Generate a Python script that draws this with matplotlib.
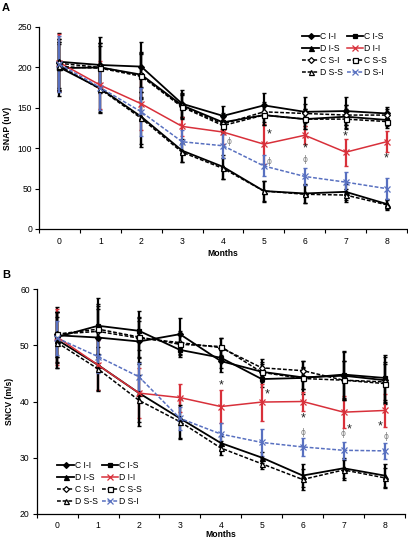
import matplotlib
matplotlib.use("Agg")
import matplotlib.pyplot as plt

plt.rcParams['font.family'] = ['Liberation Sans', 'DejaVu Sans']

months = [0, 1, 2, 3, 4, 5, 6, 7, 8]
series_names = ['C I-I', 'C I-S', 'D I-S', 'D I-I', 'C S-I', 'C S-S', 'D S-S', 'D S-I']

# Panel A: SNAP (uV)
snap_c_ii = [207, 203, 201, 155, 140, 153, 145, 146, 143]
snap_c_is = [199, 200, 191, 153, 132, 141, 136, 139, 135]
snap_d_is = [200, 174, 139, 97, 77, 47, 44, 46, 31]
snap_d_ii = [206, 178, 155, 127, 120, 105, 116, 95, 108]
snap_c_si = [205, 200, 190, 152, 130, 145, 143, 141, 141]
snap_c_ss = [201, 199, 189, 151, 128, 141, 136, 136, 133]
snap_d_ss = [202, 173, 137, 95, 75, 47, 43, 42, 30]
snap_d_si = [204, 175, 145, 108, 103, 78, 65, 58, 50]

snap_c_ii_err = [35, 35, 31, 17, 12, 15, 18, 17, 8]
snap_c_is_err = [30, 30, 28, 15, 12, 12, 12, 14, 8]
snap_d_is_err = [35, 30, 37, 14, 15, 13, 12, 10, 6]
snap_d_ii_err = [35, 30, 32, 12, 15, 25, 11, 17, 13]
snap_c_si_err = [30, 30, 28, 15, 10, 12, 12, 12, 8]
snap_c_ss_err = [30, 28, 28, 15, 10, 12, 12, 12, 8]
snap_d_ss_err = [30, 28, 32, 12, 13, 12, 11, 8, 6]
snap_d_si_err = [35, 28, 30, 15, 15, 13, 11, 12, 13]

# Panel B: SNCV (m/s)
sncv_c_ii = [51.8, 51.4, 50.7, 52.0, 47.2, 45.3, 44.3, 44.6, 43.8]
sncv_c_is = [51.5, 53.5, 52.6, 49.2, 47.8, 44.0, 44.2, 44.8, 44.2]
sncv_d_is = [51.0, 46.5, 41.5, 37.0, 32.6, 30.0, 26.8, 28.1, 26.8]
sncv_d_ii = [51.5, 46.5, 41.5, 40.7, 39.1, 39.9, 40.0, 38.1, 38.4]
sncv_c_si = [52.0, 52.5, 51.3, 50.5, 49.6, 46.0, 45.5, 43.8, 43.5]
sncv_c_ss = [52.0, 52.9, 51.5, 50.2, 49.8, 45.2, 44.1, 43.8, 43.2]
sncv_d_ss = [50.5, 45.8, 40.2, 36.4, 31.7, 28.9, 26.1, 27.8, 26.4]
sncv_d_si = [51.3, 48.0, 44.4, 37.0, 34.2, 32.7, 31.9, 31.3, 31.2]

sncv_c_ii_err = [5.0, 5.0, 3.7, 2.8, 2.0, 1.8, 3.0, 4.2, 4.2]
sncv_c_is_err = [4.5, 5.0, 3.5, 1.2, 1.8, 1.5, 2.0, 4.2, 4.0]
sncv_d_is_err = [5.0, 4.5, 5.2, 3.5, 1.2, 1.0, 2.0, 1.8, 2.0]
sncv_d_ii_err = [5.0, 4.5, 4.5, 2.5, 3.0, 3.3, 1.7, 2.8, 3.0]
sncv_c_si_err = [4.0, 4.5, 3.5, 2.0, 1.8, 1.5, 1.8, 3.5, 3.5]
sncv_c_ss_err = [4.0, 4.5, 3.5, 2.0, 1.5, 1.5, 1.8, 3.5, 3.5]
sncv_d_ss_err = [4.5, 4.0, 4.5, 3.0, 1.2, 1.0, 1.8, 1.8, 1.8]
sncv_d_si_err = [3.0, 3.0, 2.5, 2.0, 2.0, 2.4, 1.6, 1.5, 1.4]

# significance marks
snap_star_x = [5.12, 6.0, 7.0, 8.0]
snap_star_y = [117, 100, 115, 87]
snap_phi_x = [4.14, 5.13, 6.0]
snap_phi_y = [108, 84, 86]
sncv_star_x = [4.02, 5.12, 6.0, 7.14, 7.9]
sncv_star_y = [42.9, 41.3, 37.0, 35.0, 35.6]
sncv_phi_x = [6.0, 6.98, 8.05]
sncv_phi_y = [34.4, 34.3, 33.7]

RED = '#d8303a'
BLUE = '#5870c0'
styles = [
    dict(color='black', ls='-', marker='D', mfc='black', ms=3.0, lw=1.3),
    dict(color='black', ls='-', marker='s', mfc='black', ms=3.4, lw=1.3),
    dict(color='black', ls='-', marker='^', mfc='black', ms=3.6, lw=1.3),
    dict(color=RED, ls='-', marker='x', mfc=RED, ms=3.8, lw=1.1),
    dict(color='black', ls=(0, (2.5, 1.2)), marker='D', mfc='white', ms=3.0, lw=1.1),
    dict(color='black', ls=(0, (2.5, 1.2)), marker='s', mfc='white', ms=3.6, lw=1.1),
    dict(color='black', ls=(0, (2.5, 1.2)), marker='^', mfc='white', ms=3.6, lw=1.1),
    dict(color=BLUE, ls=(0, (2.5, 1.2)), marker='x', mfc=BLUE, ms=3.8, lw=1.1),
]

snap_vals = [snap_c_ii, snap_c_is, snap_d_is, snap_d_ii, snap_c_si, snap_c_ss, snap_d_ss, snap_d_si]
snap_errs = [snap_c_ii_err, snap_c_is_err, snap_d_is_err, snap_d_ii_err,
             snap_c_si_err, snap_c_ss_err, snap_d_ss_err, snap_d_si_err]
sncv_vals = [sncv_c_ii, sncv_c_is, sncv_d_is, sncv_d_ii, sncv_c_si, sncv_c_ss, sncv_d_ss, sncv_d_si]
sncv_errs = [sncv_c_ii_err, sncv_c_is_err, sncv_d_is_err, sncv_d_ii_err,
             sncv_c_si_err, sncv_c_ss_err, sncv_d_ss_err, sncv_d_si_err]

W, H = 408, 541
fig = plt.figure(figsize=(W / 100, H / 100), dpi=100)
axA = fig.add_axes([39 / W, 1 - 229 / H, (407 - 39) / W, (229 - 27) / H])
axB = fig.add_axes([36.7 / W, 1 - 513.7 / H, (405 - 36.7) / W, (513.7 - 289.3) / H])

FS = 6.2


def draw(ax, vals, errs, ylim, yticks, ylabel, xpad, xlabelpad):
    handles = []
    for name, v, e, st in zip(series_names, vals, errs, styles):
        ax.errorbar(months, v, yerr=e, fmt='none', ecolor=st['color'], elinewidth=1.6,
                    capsize=1.2, capthick=1.0, zorder=2)
        ln, = ax.plot(months, v, color=st['color'], ls=st['ls'], lw=st['lw'],
                      marker=st['marker'], mfc=st['mfc'], mec=st['color'], ms=st['ms'],
                      mew=0.9, label=name, zorder=3)
        handles.append(ln)
    ax.set_xlim(-0.5, 8.5)
    ax.set_ylim(*ylim)
    ax.set_yticks(yticks)
    ax.set_xticks(months)
    ax.set_xticks([m - 0.5 for m in months] + [8.5], minor=True)
    ax.tick_params(axis='x', which='major', length=0, labelsize=FS, pad=xpad)
    ax.tick_params(axis='x', which='minor', length=3, width=0.8, direction='out')
    ax.tick_params(axis='y', length=3, width=0.8, direction='out', labelsize=FS, pad=2)
    for s in ['top', 'right']:
        ax.spines[s].set_visible(False)
    for s in ['left', 'bottom']:
        ax.spines[s].set_linewidth(0.9)
    ax.set_xlabel('Months', fontsize=FS, fontweight='bold', labelpad=xlabelpad)
    ax.set_ylabel(ylabel, fontsize=FS, fontweight='bold', labelpad=4)
    return handles


hA = draw(axA, snap_vals, snap_errs, (0, 250), [0, 50, 100, 150, 200, 250], 'SNAP (uV)', 6, 2)
hB = draw(axB, sncv_vals, sncv_errs, (20, 60), [20, 30, 40, 50, 60], 'SNCV (m/s)', 5, 0.3)

for ax, sx, sy, px, py in [(axA, snap_star_x, snap_star_y, snap_phi_x, snap_phi_y),
                           (axB, sncv_star_x, sncv_star_y, sncv_phi_x, sncv_phi_y)]:
    for x, y in zip(sx, sy):
        ax.text(x, y, '*', fontsize=9, ha='center', va='center', color='#222222', zorder=5)
    for x, y in zip(px, py):
        ax.text(x, y, 'ϕ', fontsize=5.5, ha='center', va='center', color='#808080',
                family=['DejaVu Sans'], zorder=5)

order = [0, 2, 4, 6, 1, 3, 5, 7]
legA = axA.legend([hA[i] for i in order], [series_names[i] for i in order], ncol=2,
                  fontsize=FS, frameon=False, handlelength=1.9, handletextpad=0.1,
                  columnspacing=0.5, labelspacing=0.35, borderaxespad=0,
                  loc='upper left', bbox_to_anchor=((299 - 39) / (407 - 39), (229 - 29) / (229 - 27)))
legB = axB.legend([hB[i] for i in order], [series_names[i] for i in order], ncol=2,
                  fontsize=FS, frameon=False, handlelength=1.9, handletextpad=0.1,
                  columnspacing=0.5, labelspacing=0.35, borderaxespad=0,
                  loc='upper left', bbox_to_anchor=((54 - 36.7) / (405 - 36.7), (513.7 - 458) / (513.7 - 289.3)))

fig.text(2 / W, 1 - 3 / H, 'A', fontsize=8, fontweight='bold', ha='left', va='top')
fig.text(2 / W, 1 - 270 / H, 'B', fontsize=8, fontweight='bold', ha='left', va='top')

fig.savefig('out.png', dpi=100)
